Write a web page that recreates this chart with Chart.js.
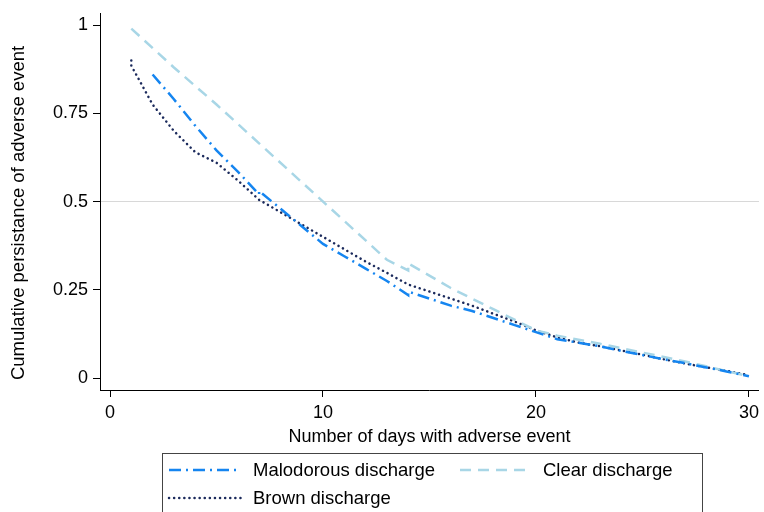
<!DOCTYPE html>
<html>
<head>
<meta charset="utf-8">
<script src="https://cdn.jsdelivr.net/npm/chart.js@4"></script>
<style>
  html, body { margin: 0; padding: 0; background: #fff; }
  #wrap { width: 764px; height: 512px; }
</style>
</head>
<body>
<div id="wrap"><canvas id="chart" width="764" height="512"></canvas></div>
<script>
const seriesNames = ['Malodorous discharge', 'Clear discharge', 'Brown discharge'];

const malodorousDays = [2, 3, 4, 5, 6, 7, 7, 8, 9, 10, 11, 12, 13, 14, 14, 15, 16, 17, 18, 19, 20, 21, 22, 23, 24, 25, 26, 27, 28, 29, 30];
const malodorousValues = [0.86, 0.79, 0.715, 0.645, 0.585, 0.52, 0.53, 0.48, 0.43, 0.38, 0.345, 0.31, 0.275, 0.235, 0.245, 0.225, 0.205, 0.19, 0.17, 0.15, 0.13, 0.11, 0.1, 0.09, 0.077, 0.065, 0.053, 0.042, 0.03, 0.018, 0.005];

const clearDays = [1, 3, 5, 7, 9, 11, 13, 14, 14, 16, 18, 20, 21, 23, 25, 27, 30];
const clearValues = [0.99, 0.88, 0.775, 0.665, 0.555, 0.445, 0.335, 0.305, 0.325, 0.255, 0.195, 0.135, 0.12, 0.097, 0.072, 0.047, 0.005];

const brownDays = [1, 1, 2, 3, 4, 5, 6, 7, 8, 9, 10, 11, 12, 13, 14, 15, 16, 17, 18, 19, 20, 21, 22, 23, 24, 25, 26, 27, 28, 29, 30];
const brownValues = [0.9, 0.885, 0.775, 0.7, 0.64, 0.61, 0.56, 0.505, 0.47, 0.435, 0.4, 0.365, 0.33, 0.298, 0.265, 0.245, 0.225, 0.205, 0.182, 0.16, 0.135, 0.115, 0.1, 0.09, 0.078, 0.066, 0.053, 0.041, 0.03, 0.02, 0.008];

const xTicks = [0, 10, 20, 30];
const yTicks = [0, 0.25, 0.5, 0.75, 1];
const yTickLabels = ['0', '0.25', '0.5', '0.75', '1'];
const yTitle = 'Cumulative persistance of adverse event';

const FONT = '"Liberation Sans", Arial, sans-serif';
const toPoints = (xs, ys) => xs.map((x, i) => ({ x: x, y: ys[i] }));

// legend box + y title drawn by hand, Stata style
const boxLegend = {
  id: 'boxLegend',
  afterDraw(chart) {
    const ctx = chart.ctx;
    ctx.save();

    ctx.save();
    ctx.translate(19, 213);
    ctx.rotate(-Math.PI / 2);
    ctx.fillStyle = '#000';
    ctx.font = '18.5px ' + FONT;
    ctx.textAlign = 'center';
    ctx.textBaseline = 'middle';
    ctx.fillText(yTitle, 0, 0);
    ctx.restore();

    ctx.strokeStyle = '#444';
    ctx.lineWidth = 1;
    ctx.strokeRect(162.5, 453.5, 540, 70);

    const slots = [
      { x: 169, y: 470, tx: 253 },
      { x: 460, y: 470, tx: 543 },
      { x: 169, y: 498, tx: 253 }
    ];
    chart.data.datasets.forEach((ds, i) => {
      const s = slots[i];
      ctx.beginPath();
      ctx.setLineDash(ds.borderDash || []);
      ctx.lineCap = ds.borderCapStyle || 'butt';
      ctx.strokeStyle = ds.borderColor;
      ctx.lineWidth = ds.borderWidth;
      ctx.moveTo(s.x, s.y);
      ctx.lineTo(s.x + 72, s.y);
      ctx.stroke();
      ctx.setLineDash([]);
      ctx.fillStyle = '#000';
      ctx.font = '18.5px ' + FONT;
      ctx.textBaseline = 'middle';
      ctx.fillText(ds.label, s.tx, s.y + 1);
    });
    ctx.restore();
  }
};

new Chart(document.getElementById('chart'), {
  type: 'line',
  data: {
    datasets: [
      {
        label: seriesNames[0],
        data: toPoints(malodorousDays, malodorousValues),
        borderColor: '#1585f0',
        borderWidth: 2.5,
        borderDash: [12, 5, 2, 5],
        pointRadius: 0,
        tension: 0
      },
      {
        label: seriesNames[1],
        data: toPoints(clearDays, clearValues),
        borderColor: '#a8d6e6',
        borderWidth: 2.5,
        borderDash: [11, 7],
        pointRadius: 0,
        tension: 0
      },
      {
        label: seriesNames[2],
        data: toPoints(brownDays, brownValues),
        borderColor: '#1b2a5c',
        borderWidth: 2.5,
        borderDash: [0.1, 5],
        borderCapStyle: 'round',
        pointRadius: 0,
        tension: 0
      }
    ]
  },
  options: {
    responsive: false,
    animation: false,
    layout: { padding: { top: 5, right: 2, bottom: 0, left: 0 } },
    plugins: {
      legend: { display: false },
      tooltip: { enabled: false }
    },
    scales: {
      x: {
        type: 'linear',
        min: -0.47,
        max: 30.47,
        afterBuildTicks: (scale) => { scale.ticks = xTicks.map(v => ({ value: v })); },
        afterFit: (scale) => { scale.height = 122; },
        grid: { display: true, drawOnChartArea: false, tickLength: 7, tickColor: '#000' },
        border: { display: true, color: '#000', width: 1 },
        ticks: {
          color: '#000',
          padding: 5,
          font: { size: 18, family: FONT },
          maxRotation: 0
        },
        title: {
          display: true,
          text: 'Number of days with adverse event',
          color: '#000',
          align: 'center',
          padding: { top: 2, bottom: 64 },
          font: { size: 18, family: FONT }
        }
      },
      y: {
        type: 'linear',
        min: -0.034,
        max: 1.034,
        afterBuildTicks: (scale) => { scale.ticks = yTicks.map(v => ({ value: v })); },
        afterFit: (scale) => { scale.width = 100; },
        grid: {
          color: (c) => (c.tick && c.tick.value === 0.5 ? '#d8d8d8' : 'rgba(0,0,0,0)'),
          tickColor: '#000',
          tickLength: 7
        },
        border: { display: true, color: '#000', width: 1 },
        ticks: {
          color: '#000',
          padding: 5,
          font: { size: 18, family: FONT, lineHeight: 0.9 },
          callback: (v) => yTickLabels[yTicks.indexOf(v)]
        },
        title: { display: false }
      }
    }
  },
  plugins: [boxLegend]
});
</script>
</body>
</html>
